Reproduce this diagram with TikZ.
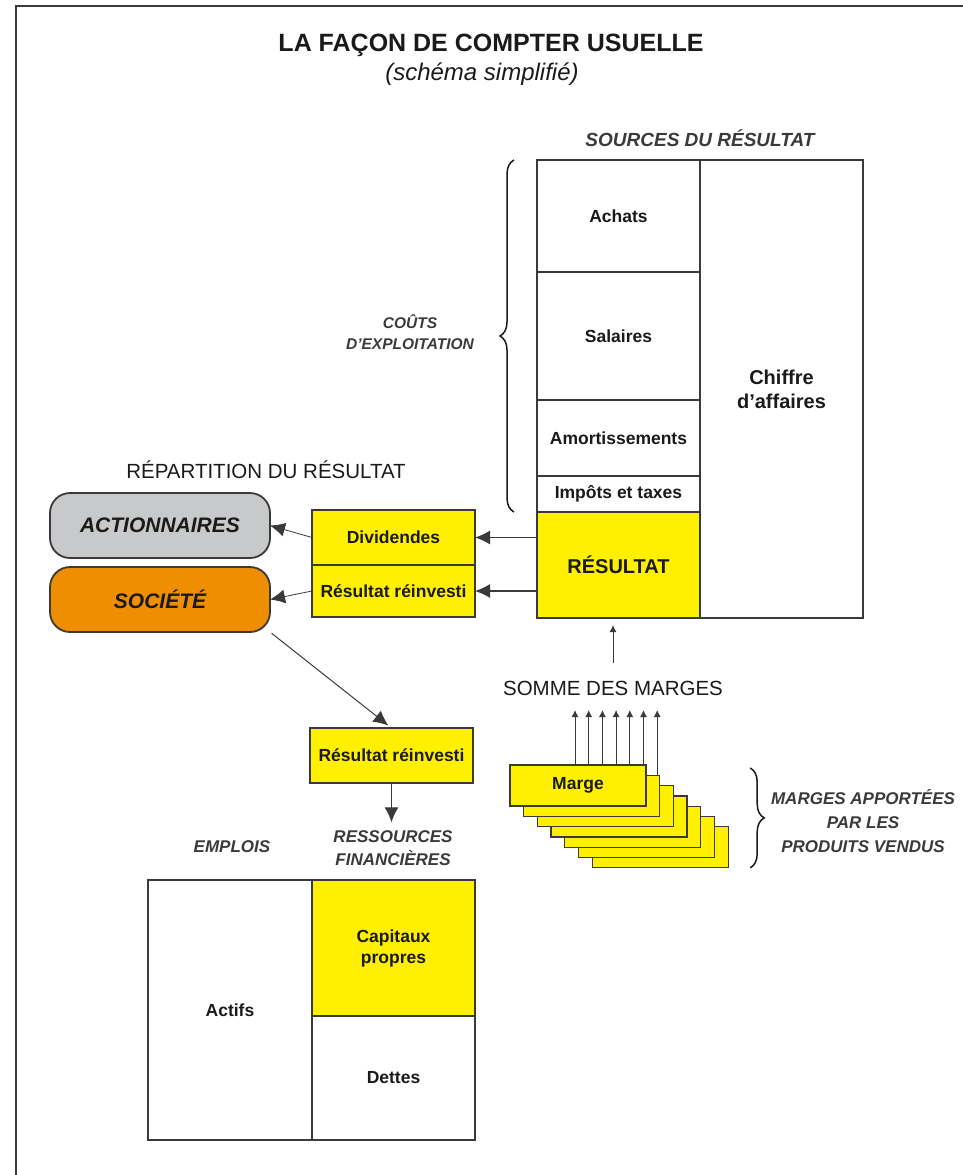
\documentclass[tikz,border=0pt]{standalone}
\usepackage{fontspec}
\setmainfont{Liberation Sans}
\usetikzlibrary{arrows.meta,decorations.pathreplacing,positioning,calc}
\definecolor{jaune}{HTML}{FFF000}
\definecolor{gris}{HTML}{C8C9CB}
\definecolor{orangesoc}{HTML}{EE8E00}
\definecolor{trait}{HTML}{3A3A3A}
\definecolor{encre}{HTML}{1A1A1A}
\begin{document}
\begin{tikzpicture}[x=1pt,y=-1pt]
\tikzset{
  bloc/.style={draw=trait, line width=1.3pt, anchor=north west, inner sep=0pt, outer sep=0pt,
    align=center, text=encre, font=\fontsize{17.5}{21}\selectfont\bfseries},
  jaunebloc/.style={bloc, fill=jaune},
  acteur/.style={draw=trait, line width=1.8pt, rounded corners=20pt, minimum width=220,
    minimum height=65, anchor=north west, outer sep=0pt, text=encre,
    font=\fontsize{21}{25}\selectfont\bfseries\itshape},
  titre/.style={inner sep=0pt, align=center, text=encre},
  fleche/.style={draw=trait, line width=1.2pt, -{Latex[length=15pt,width=14pt]}},
  petite/.style={draw=trait, line width=1pt, -{Latex[length=7pt,width=7pt]}},
  carte/.style={jaunebloc, minimum width=136, minimum height=41},
  accolade/.style={draw=encre, line width=1.5pt, decorate, decoration={brace, amplitude=14pt}}
}
\useasboundingbox (0,0) rectangle (963,1175);
\draw[line width=2pt, trait] (16,1175) -- (16,6) -- (963,6);

\node[titre, font=\fontsize{25}{30}\selectfont\bfseries] (titre) at (491,45) {LA FAÇON DE COMPTER USUELLE};
\node[titre, font=\fontsize{24}{28}\selectfont\itshape] (soustitre) at (482,74) {(schéma simplifié)};
\node[titre, font=\fontsize{19}{23}\selectfont\bfseries\itshape, text=trait] (sources) at (700,138) {SOURCES DU RÉSULTAT};

\node[bloc, minimum width=163, minimum height=112] (achats) at (537,160) {Achats};
\node[bloc, minimum width=163, minimum height=128, below=0pt of achats] (salaires) {Salaires};
\node[bloc, minimum width=163, minimum height=76, below=0pt of salaires] (amort) {Amortissements};
\node[bloc, minimum width=163, minimum height=36, below=0pt of amort] (impots) {Impôts et taxes};
\node[jaunebloc, minimum width=163, minimum height=106, below=0pt of impots,
  font=\fontsize{20}{24}\selectfont\bfseries] (resultat) {RÉSULTAT};
\node[bloc, minimum width=163, minimum height=458, font=\fontsize{20}{24}\selectfont\bfseries]
  (ca) at (achats.north east) {Chiffre\\d’affaires};

\draw[accolade] ([xshift=-23pt]impots.south west) -- ([xshift=-23pt]achats.north west);
\node[titre, font=\fontsize{15.5}{21}\selectfont\bfseries\itshape, text=trait] (couts) at (410,332) {COÛTS\\D’EXPLOITATION};

\node[titre, font=\fontsize{20.5}{24}\selectfont] (repartition) at (266,470) {RÉPARTITION DU RÉSULTAT};
\node[acteur, fill=gris] (actionnaires) at (50,493) {ACTIONNAIRES};
\node[acteur, fill=orangesoc] (societe) at (50,567) {SOCIÉTÉ};
\node[jaunebloc, minimum width=163, minimum height=55] (dividendes) at (312,510) {Dividendes};
\node[jaunebloc, minimum width=163, minimum height=52, below=0pt of dividendes] (reinvesti) {Résultat réinvesti};

\draw[fleche] (dividendes.east -| resultat.west) -- (dividendes.east);
\draw[fleche] (reinvesti.east -| resultat.west) -- (reinvesti.east);
\draw[fleche, line width=0.8pt] (dividendes.west) -- (actionnaires.east);
\draw[fleche, line width=0.8pt] (reinvesti.west) -- (societe.east);

\node[jaunebloc, minimum width=163, minimum height=55] (reinvesti2) at (310,728) {Résultat réinvesti};
\draw[fleche, line width=1pt, shorten <=2pt, shorten >=4pt] (societe.south east) -- (reinvesti2.north);
\node[titre, font=\fontsize{17}{23}\selectfont\bfseries\itshape, text=trait] (ressources) at (393,848) {RESSOURCES\\FINANCIÈRES};
\node[titre, font=\fontsize{17}{23}\selectfont\bfseries\itshape, text=trait] (emplois) at (232,847) {EMPLOIS};
\draw[fleche, shorten >=8pt] (reinvesti2.south) -- (reinvesti2.south |- ressources.north);

\node[bloc, minimum width=164, minimum height=260] (actifs) at (148,880) {Actifs};
\node[jaunebloc, minimum width=163, minimum height=136] (capitaux) at (actifs.north east) {Capitaux\\propres};
\node[bloc, minimum width=163, minimum height=124, below=0pt of capitaux] (dettes) {Dettes};

\node[titre, font=\fontsize{20.5}{24}\selectfont] (somme) at (613,688) {SOMME DES MARGES};
\draw[petite, shorten <=18pt, shorten >=7pt] (somme.north) -- (somme.north |- resultat.south);

\coordinate (haut) at (0,710);
\foreach \k in {0,...,6} {
  \coordinate (c\k) at (510+13.7*\k, 765+10.3*\k);
  \coordinate (m\k) at ($(c\k)+(65,0)$);
  \draw[petite] (m\k) -- (m\k |- haut);
}
\foreach \k in {6,5,...,1}
  \node[carte] (carte\k) at (c\k) {};
\node[carte] (carte0) at (c0) {Marge};

\draw[accolade] ($(carte6.south east |- carte0.north)+(22,3)$) -- ($(carte6.south east)+(22,0)$);
\node[titre, font=\fontsize{17}{24}\selectfont\bfseries\itshape, text=trait] (apportees) at (863,821)
  {MARGES APPORTÉES\\PAR LES\\PRODUITS VENDUS};
\end{tikzpicture}
\end{document}
